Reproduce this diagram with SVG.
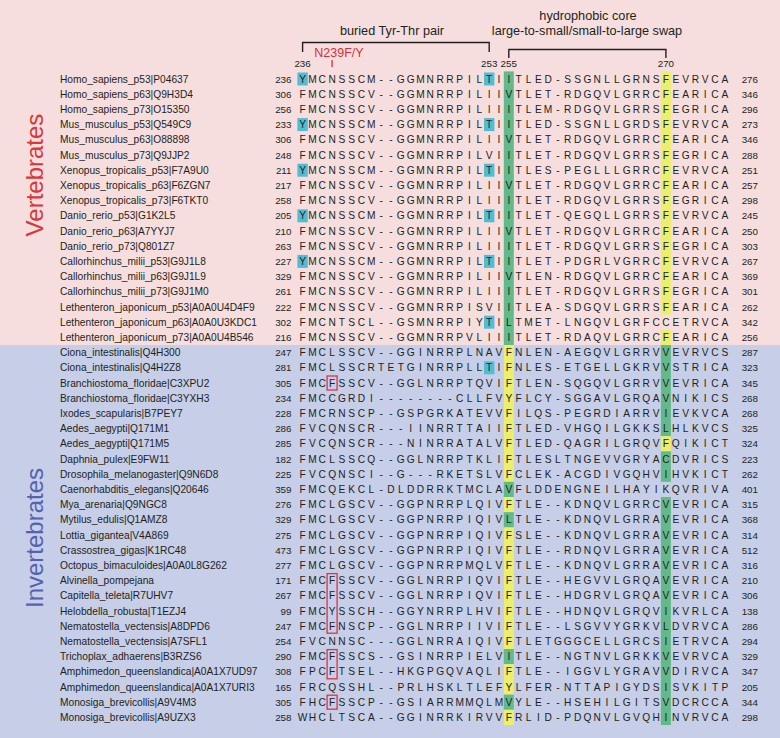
<svg xmlns="http://www.w3.org/2000/svg" width="780" height="738" viewBox="0 0 780 738">
<style>
text{font-family:"Liberation Sans",Arial,sans-serif;fill:#231f20}
.nm{font-size:10.2px}
.sq{font-size:10.2px;text-anchor:middle}
.ns{font-size:9.8px;text-anchor:end}
.hd{font-size:12.7px;text-anchor:middle}
.cn{font-size:9.8px;text-anchor:middle}
.grn{fill:#62ba8a}
.yel{fill:#ecef6c}
.cya{fill:#52bcd5}
.rbx{fill:none;stroke:#e0343c;stroke-width:1.3}
.br{fill:none;stroke:#231f20;stroke-width:1.4}
</style>
<g id="background">
<rect x="0" y="0" width="780" height="345" fill="#f6dede"/>
<rect x="0" y="345" width="780" height="393" fill="#c6cee8"/>
</g>
<g id="highlights">
<rect class="grn" x="503.8" y="71.4" width="10" height="273.6"/>
<rect class="yel" x="503.8" y="345" width="10" height="136.8"/>
<rect class="grn" x="503.8" y="481.8" width="10" height="15.2"/>
<rect class="yel" x="503.8" y="497" width="10" height="15.2"/>
<rect class="grn" x="503.8" y="512.2" width="10" height="15.2"/>
<rect class="yel" x="503.8" y="527.4" width="10" height="121.6"/>
<rect class="grn" x="503.8" y="649" width="10" height="15.2"/>
<rect class="yel" x="503.8" y="664.2" width="10" height="30.4"/>
<rect class="grn" x="503.8" y="694.6" width="10" height="15.2"/>
<rect class="yel" x="503.8" y="709.8" width="10" height="15.2"/>
<rect class="yel" x="660.9" y="71.4" width="10" height="243.2"/>
<rect class="yel" x="660.9" y="329.8" width="10" height="15.2"/>
<rect class="grn" x="660.9" y="345" width="10" height="91.2"/>
<rect class="yel" x="660.9" y="436.2" width="10" height="15.2"/>
<rect class="grn" x="660.9" y="451.4" width="10" height="30.4"/>
<rect class="grn" x="660.9" y="497" width="10" height="228"/>
<rect class="cya" x="297.4" y="72.5" width="10.4" height="13"/>
<rect class="cya" x="297.4" y="118.1" width="10.4" height="13"/>
<rect class="cya" x="297.4" y="163.7" width="10.4" height="13"/>
<rect class="cya" x="297.4" y="209.3" width="10.4" height="13"/>
<rect class="cya" x="297.4" y="254.9" width="10.4" height="13"/>
<rect class="cya" x="484" y="72.5" width="10.4" height="13"/>
<rect class="cya" x="484" y="118.1" width="10.4" height="13"/>
<rect class="cya" x="484" y="163.7" width="10.4" height="13"/>
<rect class="cya" x="484" y="209.3" width="10.4" height="13"/>
<rect class="cya" x="484" y="254.9" width="10.4" height="13"/>
<rect class="cya" x="484" y="315.7" width="10.4" height="13"/>
<rect class="cya" x="484" y="361.3" width="10.4" height="13"/>
<rect class="rbx" x="327.1" y="376" width="10" height="14"/>
<rect class="rbx" x="327.1" y="573.6" width="10" height="59.6"/>
<rect class="rbx" x="327.1" y="649.6" width="10" height="29.2"/>
<rect class="rbx" x="327.1" y="695.2" width="10" height="14"/>
</g>
<g id="connectors">
<path class="br" d="M302.6,52 V42.5 H489.2 V52"/>
<path class="br" d="M508.8,58 V49.5 H665.9 V58"/>
<path d="M332.1,60 V67" stroke="#d62e3a" stroke-width="1.3"/>
</g>
<g id="header">
<text class="hd" x="588" y="20">hydrophobic core</text>
<text class="hd" x="392" y="35">buried Tyr-Thr pair</text>
<text class="hd" x="587" y="35">large-to-small/small-to-large swap</text>
<text x="339" y="57" style="font-size:12.5px;text-anchor:middle;fill:#d62e3a">N239F/Y</text>
<text class="cn" x="302.6" y="67">236</text>
<text class="cn" x="489.2" y="67">253</text>
<text class="cn" x="508.8" y="67">255</text>
<text class="cn" x="665.9" y="67">270</text>
</g>
<g id="group-labels">
<text transform="translate(43,175) rotate(-90)" style="font-size:24px;text-anchor:middle;fill:#d8383a">Vertebrates</text>
<text transform="translate(43,538) rotate(-90)" style="font-size:24px;text-anchor:middle;fill:#5562b0">Invertebrates</text>
</g>
<g id="rows">
<g id="r0"><text class="nm" x="60" y="82.5">Homo_sapiens_p53|P04637</text><text class="ns" x="291.5" y="82.5">236</text><text class="sq" y="82.5" x="302.6 312.4 322.2 332.1 341.9 351.7 361.5 371.3 381.2 391 400.8 410.6 420.4 430.3 440.1 449.9 459.7 469.5 479.4 489.2 499 508.8 518.6 528.5 538.3 548.1 557.9 567.7 577.6 587.4 597.2 607 616.8 626.7 636.5 646.3 656.1 665.9 675.8 685.6 695.4 705.2 715 724.9">YMCNSSCM--GGMNRRPILTIITLED-SSGNLLGRNSFEVRVCA</text><text class="ns" x="758" y="82.5">276</text></g>
<g id="r1"><text class="nm" x="60" y="97.7">Homo_sapiens_p63|Q9H3D4</text><text class="ns" x="291.5" y="97.7">306</text><text class="sq" y="97.7" x="302.6 312.4 322.2 332.1 341.9 351.7 361.5 371.3 381.2 391 400.8 410.6 420.4 430.3 440.1 449.9 459.7 469.5 479.4 489.2 499 508.8 518.6 528.5 538.3 548.1 557.9 567.7 577.6 587.4 597.2 607 616.8 626.7 636.5 646.3 656.1 665.9 675.8 685.6 695.4 705.2 715 724.9">FMCNSSCV--GGMNRRPILIIVTLET-RDGQVLGRRCFEARICA</text><text class="ns" x="758" y="97.7">346</text></g>
<g id="r2"><text class="nm" x="60" y="112.9">Homo_sapiens_p73|O15350</text><text class="ns" x="291.5" y="112.9">256</text><text class="sq" y="112.9" x="302.6 312.4 322.2 332.1 341.9 351.7 361.5 371.3 381.2 391 400.8 410.6 420.4 430.3 440.1 449.9 459.7 469.5 479.4 489.2 499 508.8 518.6 528.5 538.3 548.1 557.9 567.7 577.6 587.4 597.2 607 616.8 626.7 636.5 646.3 656.1 665.9 675.8 685.6 695.4 705.2 715 724.9">FMCNSSCV--GGMNRRPILIIITLEM-RDGQVLGRRSFEGRICA</text><text class="ns" x="758" y="112.9">296</text></g>
<g id="r3"><text class="nm" x="60" y="128.1">Mus_musculus_p53|Q549C9</text><text class="ns" x="291.5" y="128.1">233</text><text class="sq" y="128.1" x="302.6 312.4 322.2 332.1 341.9 351.7 361.5 371.3 381.2 391 400.8 410.6 420.4 430.3 440.1 449.9 459.7 469.5 479.4 489.2 499 508.8 518.6 528.5 538.3 548.1 557.9 567.7 577.6 587.4 597.2 607 616.8 626.7 636.5 646.3 656.1 665.9 675.8 685.6 695.4 705.2 715 724.9">YMCNSSCM--GGMNRRPILTIITLED-SSGNLLGRDSFEVRVCA</text><text class="ns" x="758" y="128.1">273</text></g>
<g id="r4"><text class="nm" x="60" y="143.3">Mus_musculus_p63|O88898</text><text class="ns" x="291.5" y="143.3">306</text><text class="sq" y="143.3" x="302.6 312.4 322.2 332.1 341.9 351.7 361.5 371.3 381.2 391 400.8 410.6 420.4 430.3 440.1 449.9 459.7 469.5 479.4 489.2 499 508.8 518.6 528.5 538.3 548.1 557.9 567.7 577.6 587.4 597.2 607 616.8 626.7 636.5 646.3 656.1 665.9 675.8 685.6 695.4 705.2 715 724.9">FMCNSSCV--GGMNRRPILIIVTLET-RDGQVLGRRCFEARICA</text><text class="ns" x="758" y="143.3">346</text></g>
<g id="r5"><text class="nm" x="60" y="158.5">Mus_musculus_p73|Q9JJP2</text><text class="ns" x="291.5" y="158.5">248</text><text class="sq" y="158.5" x="302.6 312.4 322.2 332.1 341.9 351.7 361.5 371.3 381.2 391 400.8 410.6 420.4 430.3 440.1 449.9 459.7 469.5 479.4 489.2 499 508.8 518.6 528.5 538.3 548.1 557.9 567.7 577.6 587.4 597.2 607 616.8 626.7 636.5 646.3 656.1 665.9 675.8 685.6 695.4 705.2 715 724.9">FMCNSSCV--GGMNRRPILVIITLET-RDGQVLGRRSFEGRICA</text><text class="ns" x="758" y="158.5">288</text></g>
<g id="r6"><text class="nm" x="60" y="173.7">Xenopus_tropicalis_p53|F7A9U0</text><text class="ns" x="291.5" y="173.7">211</text><text class="sq" y="173.7" x="302.6 312.4 322.2 332.1 341.9 351.7 361.5 371.3 381.2 391 400.8 410.6 420.4 430.3 440.1 449.9 459.7 469.5 479.4 489.2 499 508.8 518.6 528.5 538.3 548.1 557.9 567.7 577.6 587.4 597.2 607 616.8 626.7 636.5 646.3 656.1 665.9 675.8 685.6 695.4 705.2 715 724.9">YMCNSSCM--GGMNRRPILTIITLES-PEGLLLGRRCFEVRVCA</text><text class="ns" x="758" y="173.7">251</text></g>
<g id="r7"><text class="nm" x="60" y="188.9">Xenopus_tropicalis_p63|F6ZGN7</text><text class="ns" x="291.5" y="188.9">217</text><text class="sq" y="188.9" x="302.6 312.4 322.2 332.1 341.9 351.7 361.5 371.3 381.2 391 400.8 410.6 420.4 430.3 440.1 449.9 459.7 469.5 479.4 489.2 499 508.8 518.6 528.5 538.3 548.1 557.9 567.7 577.6 587.4 597.2 607 616.8 626.7 636.5 646.3 656.1 665.9 675.8 685.6 695.4 705.2 715 724.9">FMCNSSCV--GGMNRRPILIIVTLET-RDGQVLGRRCFEARICA</text><text class="ns" x="758" y="188.9">257</text></g>
<g id="r8"><text class="nm" x="60" y="204.1">Xenopus_tropicalis_p73|F6TKT0</text><text class="ns" x="291.5" y="204.1">258</text><text class="sq" y="204.1" x="302.6 312.4 322.2 332.1 341.9 351.7 361.5 371.3 381.2 391 400.8 410.6 420.4 430.3 440.1 449.9 459.7 469.5 479.4 489.2 499 508.8 518.6 528.5 538.3 548.1 557.9 567.7 577.6 587.4 597.2 607 616.8 626.7 636.5 646.3 656.1 665.9 675.8 685.6 695.4 705.2 715 724.9">FMCNSSCV--GGMNRRPILIIITLET-RDGQVLGRRSFEGRICA</text><text class="ns" x="758" y="204.1">298</text></g>
<g id="r9"><text class="nm" x="60" y="219.3">Danio_rerio_p53|G1K2L5</text><text class="ns" x="291.5" y="219.3">205</text><text class="sq" y="219.3" x="302.6 312.4 322.2 332.1 341.9 351.7 361.5 371.3 381.2 391 400.8 410.6 420.4 430.3 440.1 449.9 459.7 469.5 479.4 489.2 499 508.8 518.6 528.5 538.3 548.1 557.9 567.7 577.6 587.4 597.2 607 616.8 626.7 636.5 646.3 656.1 665.9 675.8 685.6 695.4 705.2 715 724.9">YMCNSSCM--GGMNRRPILTIITLET-QEGQLLGRRSFEVRVCA</text><text class="ns" x="758" y="219.3">245</text></g>
<g id="r10"><text class="nm" x="60" y="234.5">Danio_rerio_p63|A7YYJ7</text><text class="ns" x="291.5" y="234.5">210</text><text class="sq" y="234.5" x="302.6 312.4 322.2 332.1 341.9 351.7 361.5 371.3 381.2 391 400.8 410.6 420.4 430.3 440.1 449.9 459.7 469.5 479.4 489.2 499 508.8 518.6 528.5 538.3 548.1 557.9 567.7 577.6 587.4 597.2 607 616.8 626.7 636.5 646.3 656.1 665.9 675.8 685.6 695.4 705.2 715 724.9">FMCNSSCV--GGMNRRPILIIVTLET-RDGQVLGRRCFEARICA</text><text class="ns" x="758" y="234.5">250</text></g>
<g id="r11"><text class="nm" x="60" y="249.7">Danio_rerio_p73|Q801Z7</text><text class="ns" x="291.5" y="249.7">263</text><text class="sq" y="249.7" x="302.6 312.4 322.2 332.1 341.9 351.7 361.5 371.3 381.2 391 400.8 410.6 420.4 430.3 440.1 449.9 459.7 469.5 479.4 489.2 499 508.8 518.6 528.5 538.3 548.1 557.9 567.7 577.6 587.4 597.2 607 616.8 626.7 636.5 646.3 656.1 665.9 675.8 685.6 695.4 705.2 715 724.9">FMCNSSCV--GGMNRRPILIIITLET-RDGQVLGRRSFEGRICA</text><text class="ns" x="758" y="249.7">303</text></g>
<g id="r12"><text class="nm" x="60" y="264.9">Callorhinchus_milii_p53|G9J1L8</text><text class="ns" x="291.5" y="264.9">227</text><text class="sq" y="264.9" x="302.6 312.4 322.2 332.1 341.9 351.7 361.5 371.3 381.2 391 400.8 410.6 420.4 430.3 440.1 449.9 459.7 469.5 479.4 489.2 499 508.8 518.6 528.5 538.3 548.1 557.9 567.7 577.6 587.4 597.2 607 616.8 626.7 636.5 646.3 656.1 665.9 675.8 685.6 695.4 705.2 715 724.9">YMCNSSCM--GGMNRRPILTIITLET-PDGRLVGRRCFEVRVCA</text><text class="ns" x="758" y="264.9">267</text></g>
<g id="r13"><text class="nm" x="60" y="280.1">Callorhinchus_milii_p63|G9J1L9</text><text class="ns" x="291.5" y="280.1">329</text><text class="sq" y="280.1" x="302.6 312.4 322.2 332.1 341.9 351.7 361.5 371.3 381.2 391 400.8 410.6 420.4 430.3 440.1 449.9 459.7 469.5 479.4 489.2 499 508.8 518.6 528.5 538.3 548.1 557.9 567.7 577.6 587.4 597.2 607 616.8 626.7 636.5 646.3 656.1 665.9 675.8 685.6 695.4 705.2 715 724.9">FMCNSSCV--GGMNRRPILIIVTLEN-RDGQVLGRRCFEARICA</text><text class="ns" x="758" y="280.1">369</text></g>
<g id="r14"><text class="nm" x="60" y="295.3">Callorhinchus_milii_p73|G9J1M0</text><text class="ns" x="291.5" y="295.3">261</text><text class="sq" y="295.3" x="302.6 312.4 322.2 332.1 341.9 351.7 361.5 371.3 381.2 391 400.8 410.6 420.4 430.3 440.1 449.9 459.7 469.5 479.4 489.2 499 508.8 518.6 528.5 538.3 548.1 557.9 567.7 577.6 587.4 597.2 607 616.8 626.7 636.5 646.3 656.1 665.9 675.8 685.6 695.4 705.2 715 724.9">FMCNSSCV--GGMNRRPILIIITLET-RDGQVLGRRSFEGRICA</text><text class="ns" x="758" y="295.3">301</text></g>
<g id="r15"><text class="nm" x="60" y="310.5">Lethenteron_japonicum_p53|A0A0U4D4F9</text><text class="ns" x="291.5" y="310.5">222</text><text class="sq" y="310.5" x="302.6 312.4 322.2 332.1 341.9 351.7 361.5 371.3 381.2 391 400.8 410.6 420.4 430.3 440.1 449.9 459.7 469.5 479.4 489.2 499 508.8 518.6 528.5 538.3 548.1 557.9 567.7 577.6 587.4 597.2 607 616.8 626.7 636.5 646.3 656.1 665.9 675.8 685.6 695.4 705.2 715 724.9">FMCNSSCV--GGMNRRPISVIITLEA-SDGQVLGRRSFEARICA</text><text class="ns" x="758" y="310.5">262</text></g>
<g id="r16"><text class="nm" x="60" y="325.7">Lethenteron_japonicum_p63|A0A0U3KDC1</text><text class="ns" x="291.5" y="325.7">302</text><text class="sq" y="325.7" x="302.6 312.4 322.2 332.1 341.9 351.7 361.5 371.3 381.2 391 400.8 410.6 420.4 430.3 440.1 449.9 459.7 469.5 479.4 489.2 499 508.8 518.6 528.5 538.3 548.1 557.9 567.7 577.6 587.4 597.2 607 616.8 626.7 636.5 646.3 656.1 665.9 675.8 685.6 695.4 705.2 715 724.9">FMCNTSCL--GSMNRRPIYTILTMET-LNGQVLGRFCCETRVCA</text><text class="ns" x="758" y="325.7">342</text></g>
<g id="r17"><text class="nm" x="60" y="340.9">Lethenteron_japonicum_p73|A0A0U4B546</text><text class="ns" x="291.5" y="340.9">216</text><text class="sq" y="340.9" x="302.6 312.4 322.2 332.1 341.9 351.7 361.5 371.3 381.2 391 400.8 410.6 420.4 430.3 440.1 449.9 459.7 469.5 479.4 489.2 499 508.8 518.6 528.5 538.3 548.1 557.9 567.7 577.6 587.4 597.2 607 616.8 626.7 636.5 646.3 656.1 665.9 675.8 685.6 695.4 705.2 715 724.9">FMCNSSCV--GGMNRRPVLIIITLET-RDAQVLGRRCFEARICA</text><text class="ns" x="758" y="340.9">256</text></g>
<g id="r18"><text class="nm" x="60" y="356.1">Ciona_intestinalis|Q4H300</text><text class="ns" x="291.5" y="356.1">247</text><text class="sq" y="356.1" x="302.6 312.4 322.2 332.1 341.9 351.7 361.5 371.3 381.2 391 400.8 410.6 420.4 430.3 440.1 449.9 459.7 469.5 479.4 489.2 499 508.8 518.6 528.5 538.3 548.1 557.9 567.7 577.6 587.4 597.2 607 616.8 626.7 636.5 646.3 656.1 665.9 675.8 685.6 695.4 705.2 715 724.9">FMCLSSCV--GGINRRPLNAVFNLEN-AEGQVLGRRVVEVRVCS</text><text class="ns" x="758" y="356.1">287</text></g>
<g id="r19"><text class="nm" x="60" y="371.3">Ciona_intestinalis|Q4H2Z8</text><text class="ns" x="291.5" y="371.3">281</text><text class="sq" y="371.3" x="302.6 312.4 322.2 332.1 341.9 351.7 361.5 371.3 381.2 391 400.8 410.6 420.4 430.3 440.1 449.9 459.7 469.5 479.4 489.2 499 508.8 518.6 528.5 538.3 548.1 557.9 567.7 577.6 587.4 597.2 607 616.8 626.7 636.5 646.3 656.1 665.9 675.8 685.6 695.4 705.2 715 724.9">FMCLSSCRTETGINRRPLLTIFNLES-ETGELLGKRVVSTRICA</text><text class="ns" x="758" y="371.3">323</text></g>
<g id="r20"><text class="nm" x="60" y="386.5">Branchiostoma_floridae|C3XPU2</text><text class="ns" x="291.5" y="386.5">305</text><text class="sq" y="386.5" x="302.6 312.4 322.2 332.1 341.9 351.7 361.5 371.3 381.2 391 400.8 410.6 420.4 430.3 440.1 449.9 459.7 469.5 479.4 489.2 499 508.8 518.6 528.5 538.3 548.1 557.9 567.7 577.6 587.4 597.2 607 616.8 626.7 636.5 646.3 656.1 665.9 675.8 685.6 695.4 705.2 715 724.9">FMCFSSCV--GGLNRRPTQVIFTLEN-SQGQVLGRRVVEVRICA</text><text class="ns" x="758" y="386.5">345</text></g>
<g id="r21"><text class="nm" x="60" y="401.7">Branchiostoma_floridae|C3YXH3</text><text class="ns" x="291.5" y="401.7">234</text><text class="sq" y="401.7" x="302.6 312.4 322.2 332.1 341.9 351.7 361.5 371.3 381.2 391 400.8 410.6 420.4 430.3 440.1 449.9 459.7 469.5 479.4 489.2 499 508.8 518.6 528.5 538.3 548.1 557.9 567.7 577.6 587.4 597.2 607 616.8 626.7 636.5 646.3 656.1 665.9 675.8 685.6 695.4 705.2 715 724.9">FMCCGRDI--------CLLFVYFLCY-SGGAVLGRQAVNIKICS</text><text class="ns" x="758" y="401.7">268</text></g>
<g id="r22"><text class="nm" x="60" y="416.9">Ixodes_scapularis|B7PEY7</text><text class="ns" x="291.5" y="416.9">228</text><text class="sq" y="416.9" x="302.6 312.4 322.2 332.1 341.9 351.7 361.5 371.3 381.2 391 400.8 410.6 420.4 430.3 440.1 449.9 459.7 469.5 479.4 489.2 499 508.8 518.6 528.5 538.3 548.1 557.9 567.7 577.6 587.4 597.2 607 616.8 626.7 636.5 646.3 656.1 665.9 675.8 685.6 695.4 705.2 715 724.9">FMCRNSCP--GSPGRKATEVVFILQS-PEGRDIARRVIEVKVCA</text><text class="ns" x="758" y="416.9">268</text></g>
<g id="r23"><text class="nm" x="60" y="432.1">Aedes_aegypti|Q171M1</text><text class="ns" x="291.5" y="432.1">286</text><text class="sq" y="432.1" x="302.6 312.4 322.2 332.1 341.9 351.7 361.5 371.3 381.2 391 400.8 410.6 420.4 430.3 440.1 449.9 459.7 469.5 479.4 489.2 499 508.8 518.6 528.5 538.3 548.1 557.9 567.7 577.6 587.4 597.2 607 616.8 626.7 636.5 646.3 656.1 665.9 675.8 685.6 695.4 705.2 715 724.9">FVCQNSCR---IINRRTTAIIFTLED-VHGQILGKKSLHLKVCS</text><text class="ns" x="758" y="432.1">325</text></g>
<g id="r24"><text class="nm" x="60" y="447.3">Aedes_aegypti|Q171M5</text><text class="ns" x="291.5" y="447.3">285</text><text class="sq" y="447.3" x="302.6 312.4 322.2 332.1 341.9 351.7 361.5 371.3 381.2 391 400.8 410.6 420.4 430.3 440.1 449.9 459.7 469.5 479.4 489.2 499 508.8 518.6 528.5 538.3 548.1 557.9 567.7 577.6 587.4 597.2 607 616.8 626.7 636.5 646.3 656.1 665.9 675.8 685.6 695.4 705.2 715 724.9">FVCQNSCR---NINRRATALVFTLED-QAGRILGRQVFQIKICT</text><text class="ns" x="758" y="447.3">324</text></g>
<g id="r25"><text class="nm" x="60" y="462.5">Daphnia_pulex|E9FW11</text><text class="ns" x="291.5" y="462.5">182</text><text class="sq" y="462.5" x="302.6 312.4 322.2 332.1 341.9 351.7 361.5 371.3 381.2 391 400.8 410.6 420.4 430.3 440.1 449.9 459.7 469.5 479.4 489.2 499 508.8 518.6 528.5 538.3 548.1 557.9 567.7 577.6 587.4 597.2 607 616.8 626.7 636.5 646.3 656.1 665.9 675.8 685.6 695.4 705.2 715 724.9">FMCLSSCQ--GGLNRRPTKLIFTLESLTNGEVVGRYACDVRICS</text><text class="ns" x="758" y="462.5">223</text></g>
<g id="r26"><text class="nm" x="60" y="477.7">Drosophila_melanogaster|Q9N6D8</text><text class="ns" x="291.5" y="477.7">225</text><text class="sq" y="477.7" x="302.6 312.4 322.2 332.1 341.9 351.7 361.5 371.3 381.2 391 400.8 410.6 420.4 430.3 440.1 449.9 459.7 469.5 479.4 489.2 499 508.8 518.6 528.5 538.3 548.1 557.9 567.7 577.6 587.4 597.2 607 616.8 626.7 636.5 646.3 656.1 665.9 675.8 685.6 695.4 705.2 715 724.9">FVCQNSCI--G---RKETSLVFCLEK-ACGDIVGQHVIHVKICT</text><text class="ns" x="758" y="477.7">262</text></g>
<g id="r27"><text class="nm" x="60" y="492.9">Caenorhabditis_elegans|Q20646</text><text class="ns" x="291.5" y="492.9">359</text><text class="sq" y="492.9" x="302.6 312.4 322.2 332.1 341.9 351.7 361.5 371.3 381.2 391 400.8 410.6 420.4 430.3 440.1 449.9 459.7 469.5 479.4 489.2 499 508.8 518.6 528.5 538.3 548.1 557.9 567.7 577.6 587.4 597.2 607 616.8 626.7 636.5 646.3 656.1 665.9 675.8 685.6 695.4 705.2 715 724.9">FMCQEKCL-DLDDRRKTMCLAVFLDDENGNEILHAYIKQVRIVA</text><text class="ns" x="758" y="492.9">401</text></g>
<g id="r28"><text class="nm" x="60" y="508.1">Mya_arenaria|Q9NGC8</text><text class="ns" x="291.5" y="508.1">276</text><text class="sq" y="508.1" x="302.6 312.4 322.2 332.1 341.9 351.7 361.5 371.3 381.2 391 400.8 410.6 420.4 430.3 440.1 449.9 459.7 469.5 479.4 489.2 499 508.8 518.6 528.5 538.3 548.1 557.9 567.7 577.6 587.4 597.2 607 616.8 626.7 636.5 646.3 656.1 665.9 675.8 685.6 695.4 705.2 715 724.9">FMCLGSCV--GGPNRRPLQIVFTLE--KDNQVLGRRCVEVRICA</text><text class="ns" x="758" y="508.1">315</text></g>
<g id="r29"><text class="nm" x="60" y="523.3">Mytilus_edulis|Q1AMZ8</text><text class="ns" x="291.5" y="523.3">329</text><text class="sq" y="523.3" x="302.6 312.4 322.2 332.1 341.9 351.7 361.5 371.3 381.2 391 400.8 410.6 420.4 430.3 440.1 449.9 459.7 469.5 479.4 489.2 499 508.8 518.6 528.5 538.3 548.1 557.9 567.7 577.6 587.4 597.2 607 616.8 626.7 636.5 646.3 656.1 665.9 675.8 685.6 695.4 705.2 715 724.9">FMCLGSCV--GGPNRRPIQIVLTLE--KDNQVLGRRAVEVRICA</text><text class="ns" x="758" y="523.3">368</text></g>
<g id="r30"><text class="nm" x="60" y="538.5">Lottia_gigantea|V4A869</text><text class="ns" x="291.5" y="538.5">275</text><text class="sq" y="538.5" x="302.6 312.4 322.2 332.1 341.9 351.7 361.5 371.3 381.2 391 400.8 410.6 420.4 430.3 440.1 449.9 459.7 469.5 479.4 489.2 499 508.8 518.6 528.5 538.3 548.1 557.9 567.7 577.6 587.4 597.2 607 616.8 626.7 636.5 646.3 656.1 665.9 675.8 685.6 695.4 705.2 715 724.9">FMCLGSCV--GGPNRRPIQIVFSLE--KDNQVLGRRAVEVRICA</text><text class="ns" x="758" y="538.5">314</text></g>
<g id="r31"><text class="nm" x="60" y="553.7">Crassostrea_gigas|K1RC48</text><text class="ns" x="291.5" y="553.7">473</text><text class="sq" y="553.7" x="302.6 312.4 322.2 332.1 341.9 351.7 361.5 371.3 381.2 391 400.8 410.6 420.4 430.3 440.1 449.9 459.7 469.5 479.4 489.2 499 508.8 518.6 528.5 538.3 548.1 557.9 567.7 577.6 587.4 597.2 607 616.8 626.7 636.5 646.3 656.1 665.9 675.8 685.6 695.4 705.2 715 724.9">FMCLGSCV--GGPNRRPIQIVFTLE--RDNQVLGRRAVEVRICA</text><text class="ns" x="758" y="553.7">512</text></g>
<g id="r32"><text class="nm" x="60" y="568.9">Octopus_bimaculoides|A0A0L8G262</text><text class="ns" x="291.5" y="568.9">277</text><text class="sq" y="568.9" x="302.6 312.4 322.2 332.1 341.9 351.7 361.5 371.3 381.2 391 400.8 410.6 420.4 430.3 440.1 449.9 459.7 469.5 479.4 489.2 499 508.8 518.6 528.5 538.3 548.1 557.9 567.7 577.6 587.4 597.2 607 616.8 626.7 636.5 646.3 656.1 665.9 675.8 685.6 695.4 705.2 715 724.9">FMCLGSCV--GGPNRRPMQLVFTLE--KDNQVLGRRAVEVRICA</text><text class="ns" x="758" y="568.9">316</text></g>
<g id="r33"><text class="nm" x="60" y="584.1">Alvinella_pompejana</text><text class="ns" x="291.5" y="584.1">171</text><text class="sq" y="584.1" x="302.6 312.4 322.2 332.1 341.9 351.7 361.5 371.3 381.2 391 400.8 410.6 420.4 430.3 440.1 449.9 459.7 469.5 479.4 489.2 499 508.8 518.6 528.5 538.3 548.1 557.9 567.7 577.6 587.4 597.2 607 616.8 626.7 636.5 646.3 656.1 665.9 675.8 685.6 695.4 705.2 715 724.9">FMCFSSCV--GGLNRRPIQVIFTLE--HEGVVLGRQAVEVRICA</text><text class="ns" x="758" y="584.1">210</text></g>
<g id="r34"><text class="nm" x="60" y="599.3">Capitella_teleta|R7UHV7</text><text class="ns" x="291.5" y="599.3">267</text><text class="sq" y="599.3" x="302.6 312.4 322.2 332.1 341.9 351.7 361.5 371.3 381.2 391 400.8 410.6 420.4 430.3 440.1 449.9 459.7 469.5 479.4 489.2 499 508.8 518.6 528.5 538.3 548.1 557.9 567.7 577.6 587.4 597.2 607 616.8 626.7 636.5 646.3 656.1 665.9 675.8 685.6 695.4 705.2 715 724.9">FMCFSSCV--GGLNRRPIQVIFTLE--HDGRVLGRQAVEVRICA</text><text class="ns" x="758" y="599.3">306</text></g>
<g id="r35"><text class="nm" x="60" y="614.5">Helobdella_robusta|T1EZJ4</text><text class="ns" x="291.5" y="614.5">99</text><text class="sq" y="614.5" x="302.6 312.4 322.2 332.1 341.9 351.7 361.5 371.3 381.2 391 400.8 410.6 420.4 430.3 440.1 449.9 459.7 469.5 479.4 489.2 499 508.8 518.6 528.5 538.3 548.1 557.9 567.7 577.6 587.4 597.2 607 616.8 626.7 636.5 646.3 656.1 665.9 675.8 685.6 695.4 705.2 715 724.9">FMCYSSCH--GGYNRRPLHVIFTLE--HDNQVLGRQVIKVRLCA</text><text class="ns" x="758" y="614.5">138</text></g>
<g id="r36"><text class="nm" x="60" y="629.7">Nematostella_vectensis|A8DPD6</text><text class="ns" x="291.5" y="629.7">247</text><text class="sq" y="629.7" x="302.6 312.4 322.2 332.1 341.9 351.7 361.5 371.3 381.2 391 400.8 410.6 420.4 430.3 440.1 449.9 459.7 469.5 479.4 489.2 499 508.8 518.6 528.5 538.3 548.1 557.9 567.7 577.6 587.4 597.2 607 616.8 626.7 636.5 646.3 656.1 665.9 675.8 685.6 695.4 705.2 715 724.9">FMCFNSCP--GGLNRRPIIVIFTLE--LSGVVYGRKVLDVRVCA</text><text class="ns" x="758" y="629.7">286</text></g>
<g id="r37"><text class="nm" x="60" y="644.9">Nematostella_vectensis|A7SFL1</text><text class="ns" x="291.5" y="644.9">254</text><text class="sq" y="644.9" x="302.6 312.4 322.2 332.1 341.9 351.7 361.5 371.3 381.2 391 400.8 410.6 420.4 430.3 440.1 449.9 459.7 469.5 479.4 489.2 499 508.8 518.6 528.5 538.3 548.1 557.9 567.7 577.6 587.4 597.2 607 616.8 626.7 636.5 646.3 656.1 665.9 675.8 685.6 695.4 705.2 715 724.9">FVCNNSC---GGLNRRAIQIVFTLETGGGCELLGRCSIETRVCA</text><text class="ns" x="758" y="644.9">294</text></g>
<g id="r38"><text class="nm" x="60" y="660.1">Trichoplax_adhaerens|B3RZS6</text><text class="ns" x="291.5" y="660.1">290</text><text class="sq" y="660.1" x="302.6 312.4 322.2 332.1 341.9 351.7 361.5 371.3 381.2 391 400.8 410.6 420.4 430.3 440.1 449.9 459.7 469.5 479.4 489.2 499 508.8 518.6 528.5 538.3 548.1 557.9 567.7 577.6 587.4 597.2 607 616.8 626.7 636.5 646.3 656.1 665.9 675.8 685.6 695.4 705.2 715 724.9">FMCFSSCS--GSINRRPIELVITLE--NGTNVLGRKKVEVRVCA</text><text class="ns" x="758" y="660.1">329</text></g>
<g id="r39"><text class="nm" x="60" y="675.3">Amphimedon_queenslandica|A0A1X7UD97</text><text class="ns" x="291.5" y="675.3">308</text><text class="sq" y="675.3" x="302.6 312.4 322.2 332.1 341.9 351.7 361.5 371.3 381.2 391 400.8 410.6 420.4 430.3 440.1 449.9 459.7 469.5 479.4 489.2 499 508.8 518.6 528.5 538.3 548.1 557.9 567.7 577.6 587.4 597.2 607 616.8 626.7 636.5 646.3 656.1 665.9 675.8 685.6 695.4 705.2 715 724.9">FPCFTSEL--HKGPGQVAQLIFTLE--IGGVLYGRAVVDIRVCA</text><text class="ns" x="758" y="675.3">347</text></g>
<g id="r40"><text class="nm" x="60" y="690.5">Amphimedon_queenslandica|A0A1X7URI3</text><text class="ns" x="291.5" y="690.5">165</text><text class="sq" y="690.5" x="302.6 312.4 322.2 332.1 341.9 351.7 361.5 371.3 381.2 391 400.8 410.6 420.4 430.3 440.1 449.9 459.7 469.5 479.4 489.2 499 508.8 518.6 528.5 538.3 548.1 557.9 567.7 577.6 587.4 597.2 607 616.8 626.7 636.5 646.3 656.1 665.9 675.8 685.6 695.4 705.2 715 724.9">FRCQSSHL--PRLHSKLTLEFYLFER-NTTAPIGYDSISVKITP</text><text class="ns" x="758" y="690.5">205</text></g>
<g id="r41"><text class="nm" x="60" y="705.7">Monosiga_brevicollis|A9V4M3</text><text class="ns" x="291.5" y="705.7">305</text><text class="sq" y="705.7" x="302.6 312.4 322.2 332.1 341.9 351.7 361.5 371.3 381.2 391 400.8 410.6 420.4 430.3 440.1 449.9 459.7 469.5 479.4 489.2 499 508.8 518.6 528.5 538.3 548.1 557.9 567.7 577.6 587.4 597.2 607 616.8 626.7 636.5 646.3 656.1 665.9 675.8 685.6 695.4 705.2 715 724.9">FHCFSSCP--GSIARRMMQLMVYLE--HSEHILGITSVDCRCCA</text><text class="ns" x="758" y="705.7">344</text></g>
<g id="r42"><text class="nm" x="60" y="720.9">Monosiga_brevicollis|A9UZX3</text><text class="ns" x="291.5" y="720.9">258</text><text class="sq" y="720.9" x="302.6 312.4 322.2 332.1 341.9 351.7 361.5 371.3 381.2 391 400.8 410.6 420.4 430.3 440.1 449.9 459.7 469.5 479.4 489.2 499 508.8 518.6 528.5 538.3 548.1 557.9 567.7 577.6 587.4 597.2 607 616.8 626.7 636.5 646.3 656.1 665.9 675.8 685.6 695.4 705.2 715 724.9">WHCLTSCA--GGINRRKIRVVFRLID-PDQNVLGVQHINVRVCA</text><text class="ns" x="758" y="720.9">298</text></g>
</g>
</svg>
